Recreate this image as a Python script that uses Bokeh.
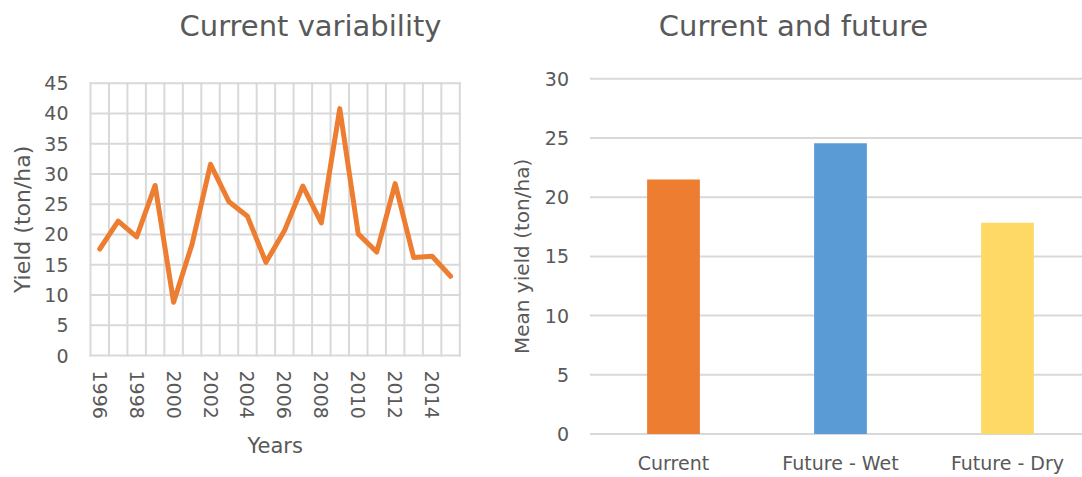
import math
from bokeh.plotting import figure
from bokeh.layouts import row
from bokeh.models import FixedTicker, Range1d, ColumnDataSource
from bokeh.core.properties import value
from bokeh.embed import file_html
from bokeh.resources import INLINE

# ---- data ----
years = list(range(1996, 2016))
yields = [17.6, 22.2, 19.6, 28.1, 8.8, 18.4, 31.6, 25.4, 23.0, 15.4,
          20.6, 28.0, 21.9, 40.8, 20.1, 17.1, 28.4, 16.2, 16.4, 13.1]
year_ticks = years[::2]
left_y_ticks = list(range(0, 50, 5))

scenarios = ["Current", "Future - Wet", "Future - Dry"]
mean_yield = [21.5, 24.56, 17.84]
bar_colors = ["#ED7D31", "#5B9BD5", "#FFD966"]
right_y_ticks = list(range(0, 35, 5))

# ---- styling / layout constants ----
FONT = "DejaVu Sans"
TXT = "#595959"
GRID = "#D9D9D9"
LW, RW, H = 490, 592, 477
TICK_PX, TITLE_PX = "19px", "29px"

bounds = [y - 0.5 for y in years] + [years[-1] + 0.5]   # category edges


# page-pixel -> data helpers (left chart: first category edge at x=90,
# 18.465 px per year; zero line at y=355, 6.051 px per ton/ha)
def lx(px):
    return bounds[0] + (px - 90.0) / 18.465


def ly(py):
    return (355.0 - py) / 6.051


# right chart: first bar centre at x=673, 167 px per category;
# zero line at y=433.5, 11.84 px per ton/ha
def rx(px):
    return (px - 673.0) / 167.0


def ry(py):
    return (433.5 - py) / 11.84


def base_fig(w, xr, yr):
    p = figure(width=w, height=H, output_backend="svg", toolbar_location=None,
               x_range=xr, y_range=yr, min_border=0,
               min_border_left=0, min_border_right=0,
               min_border_top=0, min_border_bottom=0)
    p.title.visible = False
    p.outline_line_color = None
    p.xgrid.grid_line_color = None
    p.ygrid.grid_line_color = None
    p.background_fill_color = "white"
    p.border_fill_color = "white"
    for ax in (p.xaxis[0], p.yaxis[0]):
        ax.axis_line_color = None
        ax.major_tick_line_color = None
        ax.minor_tick_line_color = None
        ax.major_tick_out = 0
        ax.major_tick_in = 0
        ax.major_label_text_font = FONT
        ax.major_label_text_font_size = TICK_PX
        ax.major_label_text_color = TXT
    return p


def add_text(p, x, y, txt, size, angle=0.0):
    p.text(x=[x], y=[y], text=[txt], angle=angle, text_align="center",
           text_baseline="middle", text_font=value(FONT),
           text_font_size=size, text_color=TXT)


# ---- left: line chart ----
p1 = base_fig(LW, Range1d(lx(0), lx(LW)), Range1d(ly(H), ly(0)))
p1.xaxis.fixed_location = left_y_ticks[0]
p1.xaxis.ticker = FixedTicker(ticks=year_ticks)
p1.xaxis.major_label_orientation = "vertical"
p1.xaxis.major_label_standoff = 15
p1.yaxis.fixed_location = bounds[0]
p1.yaxis.ticker = FixedTicker(ticks=left_y_ticks)
p1.yaxis.major_label_standoff = 22

# category gridlines (edges between years) and value gridlines
p1.segment(x0=bounds, y0=[left_y_ticks[0]] * len(bounds),
           x1=bounds, y1=[left_y_ticks[-1]] * len(bounds),
           line_color=GRID, line_width=2, line_cap="square")
p1.segment(x0=[bounds[0]] * len(left_y_ticks), y0=left_y_ticks,
           x1=[bounds[-1]] * len(left_y_ticks), y1=left_y_ticks,
           line_color=GRID, line_width=2, line_cap="square")
p1.line(years, yields, line_color="#ED7D31", line_width=5,
        line_join="round", line_cap="round")

add_text(p1, lx(310), ly(25), "Current variability", TITLE_PX)
add_text(p1, (bounds[0] + bounds[-1]) / 2, ly(445), "Years", "21px")
add_text(p1, lx(22), (left_y_ticks[0] + left_y_ticks[-1]) / 2,
         "Yield (ton/ha)", "22px", angle=math.pi / 2)

# ---- right: bar chart ----
idx = list(range(len(scenarios)))
src = ColumnDataSource(dict(x=idx, top=mean_yield, color=bar_colors))
p2 = base_fig(RW, Range1d(rx(490), rx(490 + RW)), Range1d(ry(H), ry(0)))
p2.xaxis.fixed_location = right_y_ticks[0]
p2.xaxis.ticker = FixedTicker(ticks=idx)
p2.xaxis.major_label_overrides = {i: s for i, s in zip(idx, scenarios)}
p2.xaxis.major_label_standoff = 18
p2.yaxis.fixed_location = idx[0] - 0.5
p2.yaxis.ticker = FixedTicker(ticks=right_y_ticks)
p2.yaxis.major_label_standoff = 21

p2.segment(x0=[idx[0] - 0.5] * len(right_y_ticks), y0=right_y_ticks,
           x1=[idx[-1] + 0.5] * len(right_y_ticks), y1=right_y_ticks,
           line_color=GRID, line_width=2)
p2.vbar(x="x", top="top", bottom=0, width=0.316, fill_color="color",
        line_color=None, source=src)

add_text(p2, rx(793), ry(25), "Current and future", TITLE_PX)
add_text(p2, rx(521), (right_y_ticks[0] + right_y_ticks[-1]) / 2,
         "Mean yield (ton/ha)", "20px", angle=math.pi / 2)

layout = row(p1, p2)
open("out.html", "w").write(file_html(layout, INLINE))
